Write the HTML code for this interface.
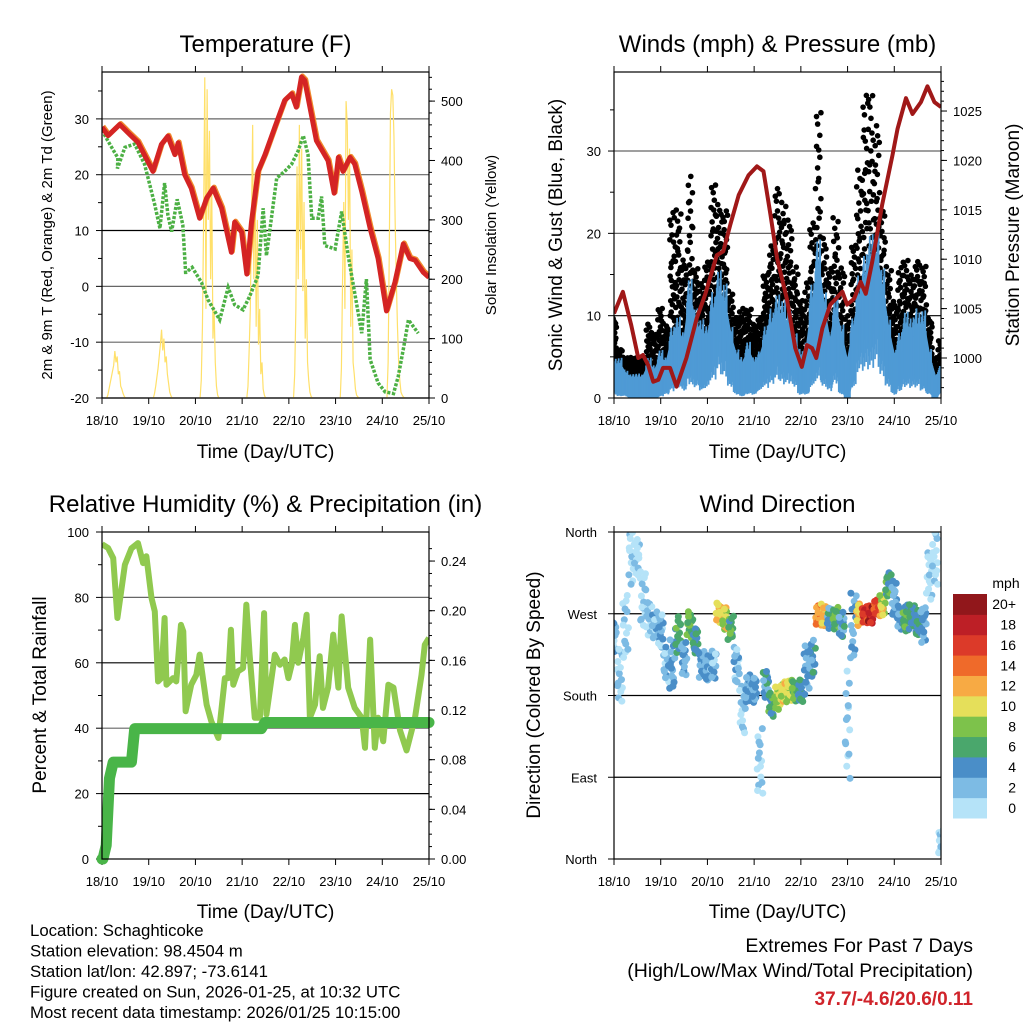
<!DOCTYPE html>
<html><head><meta charset="utf-8"><style>
body{margin:0;background:#fff}
svg{display:block;font-family:"Liberation Sans",sans-serif}
</style></head><body>
<svg id="fig" width="1024" height="1024" viewBox="0 0 1024 1024" xmlns="http://www.w3.org/2000/svg"></svg>
<script>
// ---------- Temperature panel data ----------
const tempT=[0,0.13,0.38,0.56,0.77,1.09,1.27,1.41,1.56,1.63,1.77,1.91,2.09,2.24,2.38,2.56,2.77,2.84,2.99,3.1,3.2,3.34,3.49,3.7,3.91,4.06,4.16,4.27,4.34,4.41,4.59,4.84,4.97,5.06,5.16,5.31,5.41,5.56,5.74,5.91,6.09,6.27,6.45,6.59,6.7,6.88,7.0];
const tempV=[28.5,27,29,27.5,25.8,20.6,25.4,26.9,23.6,25.7,20,17.6,12.2,15.8,17.6,14,6.1,11.5,9.7,2.2,11.5,20.6,23.6,28.5,33.3,34.5,32.1,37.5,36.9,33.9,26.1,22.5,16.7,23.1,20.6,23.1,21.9,17,10.4,5,-4.4,0.7,7.6,5,4.7,2.5,1.6];
const dewT=[0,0.13,0.34,0.33,0.49,0.7,0.91,1.02,1.13,1.24,1.34,1.41,1.49,1.61,1.73,1.79,1.8,1.93,2.13,2.27,2.52,2.7,2.84,3.02,3.16,3.34,3.45,3.52,3.74,3.91,4.06,4.2,4.31,4.41,4.49,4.63,4.7,4.77,4.99,5.13,5.27,5.56,5.66,5.74,5.91,6.06,6.24,6.34,6.46,6.56,6.77,7.0];
const dewV=[28,26,23,21.1,24.9,25.5,21.9,18.3,14.6,10.4,18.5,12.8,9.8,15.6,11,2.5,2.5,3.4,0.7,-2.4,-6,-0.2,-3.3,-4.2,-1.8,1.9,14,5.5,19.4,20.6,21.9,24.3,27,23.6,12.2,12.2,16.1,7.3,6.7,13.4,5.5,-8.4,1.3,-13.1,-17.3,-18.9,-19.2,-16.2,-10.8,-6,-8.4];
const solarStart=[0.1,1.1,2.1,3.1,4.1,5.1,6.1];
const solarDay0=[0,5,15,25,35,45,55,79,60,70,40,45,20,15,8,3,0];
const solarDay1=[0,8,20,35,50,70,90,115,80,100,60,70,40,25,10,4,0];
const solarDay2=[0,30,120,300,540,150,520,300,450,200,350,100,150,60,20,5,0];
const solarDay3=[0,20,80,150,300,460,200,380,120,300,90,150,40,60,15,5,0];
const solarDay4=[0,40,150,390,200,460,250,420,180,330,100,200,60,30,10,3,0];
const solarDay5=[0,50,200,330,150,500,460,300,420,120,250,60,40,15,5,2,0];
const solarDay6=[0,60,250,480,520,510,440,300,200,120,60,30,10,5,2,0,0];
const solarDays=[solarDay0,solarDay1,solarDay2,solarDay3,solarDay4,solarDay5,solarDay6];
const dayLabels=["18/10","19/10","20/10","21/10","22/10","23/10","24/10","25/10"];
const tempTicks=[-20,-10,0,10,20,30];
const solarTicks=[0,100,200,300,400,500];
// ---------- Wind panel data ----------
const presT=[0,0.19,0.37,0.52,0.62,0.73,0.84,0.95,1.05,1.2,1.34,1.55,1.77,1.95,2.2,2.34,2.49,2.67,2.88,3.06,3.2,3.35,3.49,3.7,3.88,4.02,4.13,4.24,4.33,4.46,4.63,4.89,4.99,5.14,5.28,5.39,5.53,5.74,5.96,6.07,6.25,6.39,6.57,6.71,6.86,7.0];
const presV=[1004.5,1006.7,1003.3,1000,1000.3,999.3,997.6,997.8,999,999,997.1,1000,1004,1006.4,1010.4,1010.8,1013.5,1016.5,1018.5,1019.4,1018.9,1014.5,1010.1,1006,1001,999.1,1001.3,1001,1000,1003,1005.4,1006.7,1005.4,1006,1007.7,1006.5,1009.8,1015.5,1020.5,1023.2,1026.3,1024.7,1025.9,1027.5,1025.9,1025.4];
const windHigh=[5,5,3.5,3,3,3,5,4,6,5,9,10,8,15,11,10,9,13,16,14,9,6,5,7,5,6,9,11,13,12,11,8,6,7,14,20,13,8,13,9,5,10,15,18,20,21,16,10,6,8,11,10,11,11,6,3,4];
const windLow=[1,0.5,0.5,0,0,0,0,0,0.5,1,2,3,2,4,3,2,3,5,7,6,3,1,0.5,1,1,2,3,4,5,4,4,3,1,1,3,5,3,2,4,1,0,3,7,8,8,9,6,3,1,2,3,3,3,2,1,0,1];
const gustHigh=[10,6,5,5,5,5,9,8,11,9,23,23,17,27,16,14,17,26,24,23,13,10,11,11,9,10,15,19,26,24,22,16,12,14,22,35,20,16,22,16,10,19,28,38,37,34,23,16,12,16,17,15,17,16,10,5,7];
const gustLow=[3,2,2,2,2,1.5,2,2,2,3,5,6,5,6,6,5,5,8,10,8,5,3,3,3,3,4,6,8,8,7,7,5,3,3,6,8,5,4,6,4,2,5,8,10,10,10,7,5,3,4,5,5,5,4,3,1,1];
const windTicks=[0,10,20,30];
const presTicks=[1000,1005,1010,1015,1020,1025];
// ---------- RH panel data ----------
const rhT=[0,0.13,0.24,0.33,0.41,0.49,0.63,0.77,0.88,0.95,1.06,1.13,1.2,1.27,1.34,1.38,1.52,1.59,1.69,1.74,1.79,1.91,2.02,2.09,2.24,2.34,2.49,2.63,2.7,2.76,2.81,2.91,3.02,3.09,3.16,3.27,3.38,3.47,3.52,3.7,3.81,3.91,3.99,4.06,4.13,4.2,4.31,4.38,4.45,4.56,4.66,4.73,4.84,4.95,5.06,5.13,5.27,5.41,5.56,5.63,5.74,5.84,5.91,6.02,6.13,6.24,6.38,6.52,6.7,6.84,6.91,7.0];
const rhV=[96.3,95.1,92,73.7,81.8,90,95,96.6,90.5,92.6,79.8,75.7,54.3,55.3,73.7,53.3,55.3,54.3,71.6,69.6,45.2,53.3,56.3,62.5,47.2,42.1,37,55.3,55.3,70.1,53.3,57.4,58.4,77.8,62.5,43.2,43.2,75.2,44.2,62.5,59.4,61,55.3,59.4,71.6,60,67.6,74.7,43.2,47.2,62,46.2,52.4,68.6,52.4,74.2,52.4,46.2,43.2,34,67.1,34,43.2,36,53.3,52.4,39.3,33.2,43.2,56.3,65.5,67.6,59.4];
const precipT=[0,0.02,0.09,0.16,0.24,0.63,0.7,3.41,3.49,7.0];
const precipV=[0,0,0.011,0.065,0.078,0.078,0.105,0.105,0.11,0.11];
const rhTicks=[0,20,40,60,80,100];
const precipTicks=["0.00","0.04","0.08","0.12","0.16","0.20","0.24"];
// ---------- Wind direction panel data ----------
const dirCenter=[247,203,258,331,331,287,265,258,251,214,214,247,221,258,240,214,210,214,271,265,254,214,163,188,185,111,192,170,177,185,185,185,185,207,221,269,269,265,265,258,148,258,269,269,269,276,280,302,287,265,265,265,262,258,313,331,20];
const dirSpread=[40,60,80,60,50,60,40,30,40,40,60,40,40,30,30,30,30,30,25,25,30,40,60,30,30,80,30,30,25,25,25,25,25,60,40,25,25,25,25,30,120,80,25,20,20,20,25,30,40,30,30,30,30,40,60,60,30];
const dirSpeed=[3,2,2,1,1,2,2,3,3,3,4,7,4,8,6,4,4,3,12,11,7,3,2,4,4,2,5,7,10,11,10,8,6,4,5,14,12,5,8,5,2,4,12,17,19,16,11,7,4,4,7,6,6,4,1,1,1];
const dirTicks=["North","East","South","West","North"];
const speedColors=["#b5e3f8","#7dbbe4","#4a8ec8","#4aa76c","#7dc24b","#e5df5a","#f7aa44","#ef6a2a","#dc3a29","#bd1f26","#91171b"];
const speedLabels=["0","2","4","6","8","10","12","14","16","18","20+"];
</script>
<script>
const NS="http://www.w3.org/2000/svg";
const svg=document.getElementById('fig');
function mk(tag,attrs,parent){const e=document.createElementNS(NS,tag);for(const k in attrs)e.setAttribute(k,attrs[k]);(parent||svg).appendChild(e);return e;}
function txt(s,x,y,size,anchor,parent,extra){const e=mk('text',Object.assign({x:x,y:y,'font-size':size,'text-anchor':anchor||'middle',fill:'#000'},extra||{}),parent);e.textContent=s;return e;}
function lin(d0,d1,r0,r1){return v=>r0+(v-d0)*(r1-r0)/(d1-d0);}
// low-discrepancy (Halton) sequence for scatter placement within a data envelope
function halton(i,b){let f=1,r=0;while(i>0){f/=b;r+=f*(i%b);i=Math.floor(i/b);}return r;}

const P=[{x0:102,x1:429,y0:72,y1:398},{x0:614,x1:941,y0:72,y1:398},{x0:102,x1:429,y0:532,y1:859},{x0:614,x1:941,y0:532,y1:859}];

function frame(p,name,title,xlabY){
  const g=mk('g',{});
  
  
  const cx=(p.x0+p.x1)/2;
  const t=txt(title,cx,p.y0-20,24,'middle',g);
  
  
  const X=lin(0,7,p.x0,p.x1);
  for(let i=0;i<8;i++){
    const x=X(i);
    mk('line',{x1:x,x2:x,y1:p.y1,y2:p.y1+6,stroke:'#000','stroke-width':1},g);
    mk('line',{x1:x,x2:x,y1:p.y0,y2:p.y0-6,stroke:'#000','stroke-width':1},g);
    const l=txt(dayLabels[i],x,p.y1+27,13,'middle',g);
    
    
  }
  const xl=txt('Time (Day/UTC)',cx,xlabY,19,'middle',g);
  
  
  return {g:g,X:X};
}
function box(p,g){mk('rect',{x:p.x0,y:p.y0,width:p.x1-p.x0,height:p.y1-p.y0,fill:'none',stroke:'#000','stroke-width':1.2},g);}
function grid(p,g,y,c){mk('line',{x1:p.x0,x2:p.x1,y1:y,y2:y,stroke:c||'#555','stroke-width':1.2},g);}
function clip(id,p){const c=mk('clipPath',{id:id});mk('rect',{x:p.x0,y:p.y0,width:p.x1-p.x0,height:p.y1-p.y0},c);}
function ylab(s,x,y,size,g,name){const e=txt(s,x,y,size,'middle',g,{transform:`rotate(-90 ${x} ${y})`});}

// ===== Panel 1: Temperature =====
(function(){
  const p=P[0];const f=frame(p,'temperature-panel','Temperature (F)',458);const g=f.g,X=f.X;
  clip('c1',p);
  const Y=lin(-20,38.4,p.y1,p.y0), S=lin(0,549,p.y1,p.y0);
  tempTicks.forEach((v,i)=>{grid(p,g,Y(v),i==3?'#000':'#666');mk('line',{x1:p.x0-6,x2:p.x0,y1:Y(v),y2:Y(v),stroke:'#000'},g);
    const l=txt(String(v),p.x0-13,Y(v)+5,13,'end',g);});
  for(let v=-15;v<=35;v+=10)mk('line',{x1:p.x0-4,x2:p.x0,y1:Y(v),y2:Y(v),stroke:'#000'},g);
  solarTicks.forEach(v=>{mk('line',{x1:p.x1,x2:p.x1+6,y1:S(v),y2:S(v),stroke:'#000'},g);
    const l=txt(String(v),p.x1+12,S(v)+5,13,'start',g);});
  for(let v=20;v<549;v+=20)mk('line',{x1:p.x1,x2:p.x1+3,y1:S(v),y2:S(v),stroke:'#000'},g);
  const pg=mk('g',{'clip-path':'url(#c1)'},g);
  solarDays.forEach((arr,d)=>{
    const pts=arr.map((v,k)=>X(solarStart[d]+k*0.025)+','+S(v)).join(' ');
    const e=mk('polyline',{points:pts,fill:'none',stroke:'#ffe06a','stroke-width':1.2},pg);
    
    
  });
  const dp=mk('polyline',{points:dewT.map((t,i)=>X(t)+','+Y(dewV[i])).join(' '),fill:'none',stroke:'#4cb044','stroke-width':3.5,'stroke-dasharray':'3 1.6'},pg);
  
  
  const o=mk('polyline',{points:tempT.map((t,i)=>(X(t)+1)+','+(Y(tempV[i])-1)).join(' '),fill:'none',stroke:'#f08a2c','stroke-width':5,'stroke-linejoin':'round'},pg);
  
  
  const r=mk('polyline',{points:tempT.map((t,i)=>X(t)+','+Y(tempV[i])).join(' '),fill:'none',stroke:'#d42424','stroke-width':5,'stroke-linejoin':'round'},pg);
  
  
  box(p,g);
  ylab('2m & 9m T (Red, Orange) & 2m Td (Green)',52,235,15,g,'temp-y-axis-title');
  ylab('Solar Insolation (Yellow)',496,235,15,g,'solar-y-axis-title');
})();

// ===== Panel 2: Winds =====
(function(){
  const p=P[1];const f=frame(p,'wind-panel','Winds (mph) & Pressure (mb)',458);const g=f.g,X=f.X;
  clip('c2',p);
  const Y=lin(0,39.6,p.y1,p.y0), PR=lin(995.95,1028.95,p.y1,p.y0);
  windTicks.forEach(v=>{if(v>0)grid(p,g,Y(v),v==10?'#000':'#666');mk('line',{x1:p.x0-6,x2:p.x0,y1:Y(v),y2:Y(v),stroke:'#000'},g);
    const l=txt(String(v),p.x0-13,Y(v)+5,13,'end',g);});
  for(let v=5;v<39;v+=10)mk('line',{x1:p.x0-4,x2:p.x0,y1:Y(v),y2:Y(v),stroke:'#000'},g);
  presTicks.forEach(v=>{mk('line',{x1:p.x1,x2:p.x1+6,y1:PR(v),y2:PR(v),stroke:'#000'},g);
    const l=txt(String(v),p.x1+12,PR(v)+5,13,'start',g);});
  for(let v=997;v<1029;v++)mk('line',{x1:p.x1,x2:p.x1+3,y1:PR(v),y2:PR(v),stroke:'#000'},g);
  const pg=mk('g',{'clip-path':'url(#c2)'},g);
  const step=7/(gustHigh.length-1);
  const N=36;
  const dg=mk('g',{},pg);
  
  
  let hi=1;
  gustHigh.forEach((h,i)=>{
    const lo=gustLow[i];
    for(let k=0;k<N;k++,hi++){
      const q=Math.pow(halton(hi,3),1.4);
      const t=i*step+(halton(hi,2)-0.5)*step;
      mk('circle',{cx:X(t),cy:Y(lo+(h-lo)*q),r:2.8,fill:'#000'},dg);
    }
  });
  const bg=mk('g',{},pg);
  
  
  const n=windHigh.length;
  let pts=[];for(let i=0;i<n;i++)pts.push(X(i*step)+','+Y(windHigh[i]*0.8));
  for(let i=n-1;i>=0;i--)pts.push(X(i*step)+','+Y(windLow[i]));
  mk('polygon',{points:pts.join(' '),fill:'#4f9ad5',stroke:'#4f9ad5','stroke-width':3,'stroke-linejoin':'round'},bg);
  let hj=1;
  for(let i=0;i<n;i++){
    for(let k=0;k<10;k++,hj++){
      const t=i*step+(k/10-0.5)*step;
      const j=0.7+0.3*halton(hj,5);
      mk('line',{x1:X(t),x2:X(t),y1:Y(windLow[i]*(0.4+0.6*halton(hj,3))),y2:Y(windHigh[i]*j),stroke:'#4f9ad5','stroke-width':1.8},bg);
    }
  }
  const pl=mk('polyline',{points:presT.map((t,i)=>X(t)+','+PR(presV[i])).join(' '),fill:'none',stroke:'#a01818','stroke-width':4,'stroke-linejoin':'round'},pg);
  
  
  box(p,g);
  ylab('Sonic Wind & Gust (Blue, Black)',562,235,19,g,'wind-y-axis-title');
  ylab('Station Pressure (Maroon)',1019,235,19,g,'pressure-y-axis-title');
})();

// ===== Panel 3: RH & Precip =====
(function(){
  const p=P[2];const f=frame(p,'humidity-panel','Relative Humidity (%) & Precipitation (in)',918);const g=f.g,X=f.X;
  clip('c3',p);
  const Y=lin(0,100,p.y1,p.y0), R=lin(0,0.2634,p.y1,p.y0);
  rhTicks.forEach(v=>{if(v>0&&v<100)grid(p,g,Y(v),v==60||v==20?'#000':'#666');mk('line',{x1:p.x0-6,x2:p.x0,y1:Y(v),y2:Y(v),stroke:'#000'},g);
    const l=txt(String(v),p.x0-13,Y(v)+5,13,'end',g);});
  for(let v=10;v<100;v+=20)mk('line',{x1:p.x0-4,x2:p.x0,y1:Y(v),y2:Y(v),stroke:'#000'},g);
  precipTicks.forEach(s=>{const v=parseFloat(s);mk('line',{x1:p.x1,x2:p.x1+6,y1:R(v),y2:R(v),stroke:'#000'},g);
    const l=txt(s,p.x1+12,R(v)+5,13,'start',g);});
  for(let v=0.01;v<0.26;v+=0.01)mk('line',{x1:p.x1,x2:p.x1+3,y1:R(v),y2:R(v),stroke:'#000'},g);
  const pg=mk('g',{},g);
  const rl=mk('polyline',{points:rhT.map((t,i)=>X(t)+','+Y(rhV[i])).join(' '),fill:'none',stroke:'#90c94f','stroke-width':6,'stroke-linejoin':'round','clip-path':'url(#c3)'},pg);
  
  
  const pr=mk('polyline',{points:precipT.map((t,i)=>X(t)+','+R(precipV[i])).join(' '),fill:'none',stroke:'#49b548','stroke-width':11,'stroke-linejoin':'round','stroke-linecap':'round'},pg);
  
  
  box(p,g);
  ylab('Percent & Total Rainfall',46,695,19,g,'rh-y-axis-title');
})();

// ===== Panel 4: Wind direction =====
(function(){
  const p=P[3];const f=frame(p,'wind-direction-panel','Wind Direction',918);const g=f.g,X=f.X;
  clip('c4',p);
  const Y=lin(0,360,p.y1,p.y0);
  dirTicks.forEach((s,i)=>{const v=i*90;if(i>0&&i<4)grid(p,g,Y(v),'#000');mk('line',{x1:p.x0-6,x2:p.x0,y1:Y(v),y2:Y(v),stroke:'#000'},g);
    const l=txt(s,p.x0-17,Y(v)+5,13,'end',g);});
  const pg=mk('g',{'clip-path':'url(#c4)'},g);
  
  
  const step=7/(dirCenter.length-1);
  const M=14;
  let hi=1;
  dirCenter.forEach((c,i)=>{
    const sp=dirSpeed[i];
    for(let k=0;k<M;k++,hi++){
      const d=c+dirSpread[i]*(halton(hi,3)-0.5);
      const t=i*step+(halton(hi,2)-0.5)*step;
      const s=Math.max(0,sp+(halton(hi,5)-0.5)*4);
      const ci=Math.min(10,Math.floor(s/2));
      mk('circle',{cx:X(t),cy:Y(((d%360)+360)%360),r:3.5,fill:speedColors[ci]},pg);
    }
  });
  box(p,g);
  ylab('Direction (Colored By Speed)',540,695,19,g,'direction-y-axis-title');
  const cb=mk('g',{});
  
  
  const h=224/11;
  speedColors.forEach((c,i)=>{
    const y=818-(i+1)*h;
    mk('rect',{x:953,y:y,width:34,height:h+0.5,fill:c},cb);
    const l=txt(speedLabels[i],1016,y+h/2+5,14,'end',cb);
    
    
  });
  const u=txt('mph',1006,588,14,'middle',cb);
  
  
})();

// ===== Footer text =====
(function(){
  const info=["Location: Schaghticoke","Station elevation: 98.4504 m","Station lat/lon: 42.897; -73.6141","Figure created on Sun, 2026-01-25, at 10:32 UTC","Most recent data timestamp: 2026/01/25 10:15:00"];
  const g=mk('g',{});
  
  
  info.forEach((s,i)=>txt(s,30,936+i*20.5,16.8,'start',g));
  const e=mk('g',{});
  
  
  txt('Extremes For Past 7 Days',973,952,19.5,'end',e);
  txt('(High/Low/Max Wind/Total Precipitation)',973,977,19.5,'end',e);
  txt('37.7/-4.6/20.6/0.11',973,1005,19,'end',e,{fill:'#d0232a','font-weight':'bold'});
})();
</script>
</body></html>
